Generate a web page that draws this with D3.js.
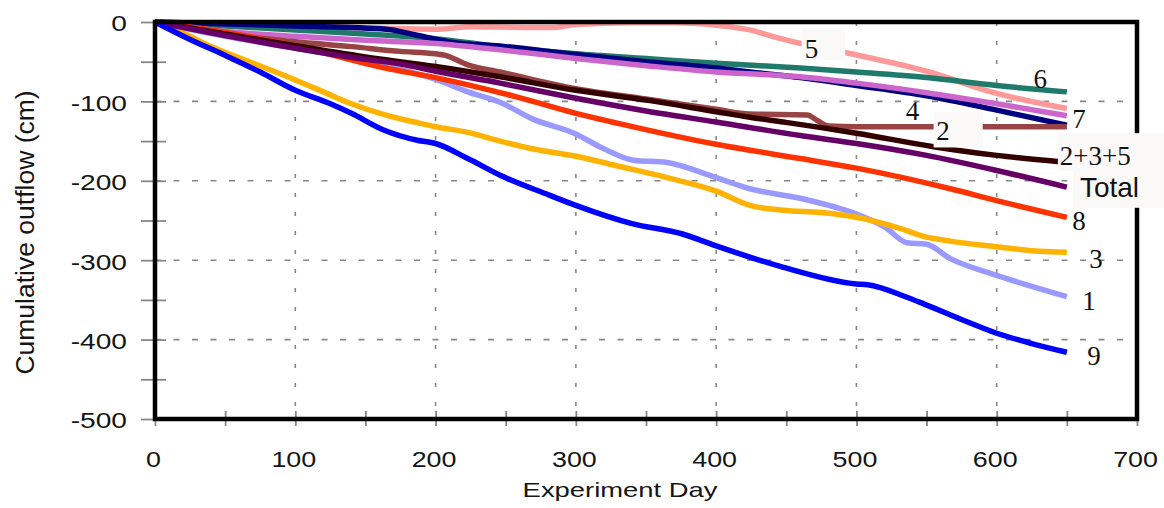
<!DOCTYPE html>
<html><head><meta charset="utf-8">
<script src="https://cdn.jsdelivr.net/npm/d3@7"></script>
<style>body{margin:0;background:#fff;} svg{display:block;}</style>
</head><body>
<svg id="chart" width="1164" height="508"></svg>
<script>
// ---------- data ----------
const xTicks = [0,100,200,300,400,500,600,700];
const yTicks = [0,-100,-200,-300,-400,-500];
const xTitle = "Experiment Day";
const yTitle = "Cumulative outflow (cm)";
const seriesNames = ["5","6","4","7","2","1","3","8","2+3+5","Total","9"];
const seriesColors = ["#ff9999","#1f7a6c","#000080","#cc66cc","#994444","#9999ff","#ffb300","#ff3300","#330000","#660066","#0000ff"];

const s1 = [[0,0],[50,-18],[100,-33],[135,-44],[175,-60],[200,-72],[223,-88],[246,-101],[269,-122],[300,-141],[317,-157],[341,-174],[365,-177],[400,-196],[424,-210],[460,-222],[500,-242],[520,-258],[536,-278],[550,-280],[567,-298],[600,-319],[625,-333],[650,-346]];
const s2 = [[0,0],[50,-15],[100,-25],[140,-31],[175,-37],[200,-40],[207,-42],[223,-54],[246,-63],[300,-84],[350,-97],[400,-110],[424,-116],[465,-117],[472,-124],[480,-131],[500,-132],[650,-132]];
const s3 = [[0,0],[20,-14],[40,-31],[70,-52],[100,-73],[120,-88],[140,-103],[164,-117],[185,-126],[200,-132],[223,-139],[246,-150],[270,-160],[300,-169],[329,-181],[365,-196],[400,-213],[424,-231],[448,-237],[475,-240],[500,-246],[531,-260],[548,-270],[567,-276],[600,-283],[625,-288],[650,-290]];
const s4 = [[0,0],[100,-5],[165,-9],[185,-16],[210,-25],[250,-31],[300,-41],[350,-50],[400,-58],[424,-63],[460,-70],[500,-80],[550,-93],[600,-111],[650,-130]];
const s5 = [[0,0],[100,-5],[200,-9],[225,-6],[282,-7],[300,-3],[340,-1],[370,-1],[400,-4],[424,-10],[440,-18],[465,-29],[496,-40],[550,-62],[600,-90],[650,-109]];
const s6 = [[0,0],[50,-5],[100,-10],[150,-15],[200,-21],[246,-31],[300,-40],[350,-46],[400,-52],[460,-58],[500,-63],[550,-70],[600,-80],[650,-88]];
const s7 = [[0,0],[50,-12],[100,-18],[150,-23],[200,-27],[246,-35],[300,-46],[350,-55],[400,-63],[460,-69],[500,-77],[550,-89],[600,-103],[650,-118]];
const s8 = [[0,0],[50,-13],[100,-30],[164,-58],[200,-70],[257,-94],[300,-115],[341,-132],[400,-154],[460,-172],[500,-184],[567,-210],[600,-225],[650,-246]];
const s9 = [[0,0],[25,-22],[50,-42],[75,-63],[100,-86],[125,-103],[140,-115],[163,-136],[187,-149],[200,-153],[223,-172],[246,-193],[281,-218],[300,-231],[340,-254],[376,-267],[400,-282],[448,-309],[500,-330],[508,-331],[535,-346],[548,-355],[574,-374],[600,-392],[625,-405],[650,-416]];
const s235 = [[0,0],[50,-15],[100,-30],[150,-44],[200,-56],[246,-69],[300,-86],[353,-99],[400,-113],[424,-120],[448,-126],[475,-133],[500,-140],[555,-157],[600,-168],[645,-176]];
const sTotal = [[0,0],[50,-17],[100,-33],[150,-47],[175,-53],[200,-62],[246,-77],[300,-96],[350,-112],[400,-126],[460,-143],[500,-153],[550,-168],[600,-187],[650,-208]];
const seriesData = [s5,s6,s4,s7,s2,s1,s3,s8,s235,sTotal,s9];

// ---------- drawing ----------
const svg = d3.select("#chart");
const x = d3.scaleLinear().domain([0,700]).range([155,1137]);
const y = d3.scaleLinear().domain([0,-500]).range([22,419]);
const sans = "'Liberation Sans', Arial, sans-serif";
const serif = "'Liberation Serif', 'Times New Roman', serif";
const boxFill = "#faf9f7";

// gridlines
const grid = svg.append("g").attr("stroke","#888").attr("stroke-width",1.6);
grid.selectAll("line.h").data(yTicks.filter(v => v<0 && v>-500)).join("line")
  .attr("x1", x(0)).attr("x2", x(700)).attr("y1", d=>y(d)).attr("y2", d=>y(d))
  .attr("stroke-dasharray","6,12.5");
grid.selectAll("line.v").data(xTicks.filter(v => v>0 && v<700)).join("line")
  .attr("y1", y(0)).attr("y2", y(-500)).attr("x1", d=>x(d)).attr("x2", d=>x(d))
  .attr("stroke-dasharray","4,15");

// axes (ticks + labels)
const yAxis = d3.axisLeft(y).tickValues(d3.range(0,-501,-50))
  .tickFormat(d => d%100===0 ? String(d) : "").tickSizeOuter(0);
const gy = svg.append("g").attr("transform",`translate(${x(0)},0)`).call(yAxis);
gy.select(".domain").remove();
gy.selectAll(".tick line").attr("x1",11).attr("x2",-14).attr("stroke","#888").attr("stroke-width",1.8);
gy.selectAll(".tick text").attr("x",null).attr("dy",null)
  .attr("font-family",sans).attr("font-size",22).attr("fill","#151515")
  .attr("text-anchor","end").attr("dominant-baseline","central")
  .attr("transform","translate(-28,1) scale(1.28,1)");

const xAxis = d3.axisBottom(x).tickValues(d3.range(0,701,50))
  .tickFormat(d => d%100===0 ? String(d) : "").tickSizeOuter(0);
const gx = svg.append("g").attr("transform",`translate(0,${y(-500)})`).call(xAxis);
gx.select(".domain").remove();
gx.selectAll(".tick line").attr("y1",-8).attr("y2",7).attr("stroke","#888").attr("stroke-width",1.8);
gx.selectAll(".tick text").attr("y",null).attr("dy",null)
  .attr("font-family",sans).attr("font-size",22).attr("fill","#151515")
  .attr("text-anchor","middle")
  .attr("transform","translate(-2,48) scale(1.22,1)");

// series lines
const line = d3.line().x(d=>x(d[0])).y(d=>y(d[1])).curve(d3.curveMonotoneX);
svg.append("g").selectAll("path").data(seriesData).join("path")
  .attr("d", line).attr("fill","none")
  .attr("stroke",(d,i)=>seriesColors[i])
  .attr("stroke-width",5.5).attr("stroke-linejoin","round");

// frame
svg.append("rect").attr("x",x(0)).attr("y",y(0))
  .attr("width",x(700)-x(0)).attr("height",y(-500)-y(0))
  .attr("fill","none").attr("stroke","#000").attr("stroke-width",4.5);

// label boxes
const boxes = [[461,492,-7,-48],[555,590,-113,-158],[643.6,730,-140,-188],[654.3,730,-186,-234]];
svg.append("g").selectAll("rect").data(boxes).join("rect")
  .attr("x",d=>x(d[0])).attr("width",d=>x(d[1])-x(d[0]))
  .attr("y",d=>y(d[2])).attr("height",d=>y(d[3])-y(d[2]))
  .attr("fill",boxFill);

// series labels
const labelPos = {
  "5":[468,-45.3],"6":[631,-83],"7":[658.6,-133.5],"4":[540,-123.4],"2":[561.7,-148.6],
  "2+3+5":[645,-180],"Total":[659.3,-220.4],"8":[658.6,-262],"3":[670.7,-309.8],
  "1":[665.7,-362.7],"9":[669.3,-432]
};
svg.append("g").selectAll("text").data(seriesNames).join("text")
  .attr("x",d=>x(labelPos[d][0])).attr("y",d=>y(labelPos[d][1]))
  .attr("text-anchor",d=> (d==="2+3+5"||d==="Total") ? "start" : "middle")
  .attr("font-family",d=> d==="Total" ? sans : serif)
  .attr("font-size",d=> d==="Total" ? 28 : 27)
  .attr("fill","#111")
  .text(d=>d);

// axis titles
svg.append("text").attr("font-family",sans).attr("font-size",20).attr("fill","#151515")
  .attr("text-anchor","middle")
  .attr("transform",`translate(${(x(0)+x(700))/2 - 26},497) scale(1.37,1)`)
  .text(xTitle);
svg.append("text").attr("font-family",sans).attr("font-size",26.5).attr("fill","#151515")
  .attr("text-anchor","middle")
  .attr("transform",`translate(34,${(y(0)+y(-500))/2 + 12}) rotate(-90)`)
  .text(yTitle);
</script>
</body></html>
